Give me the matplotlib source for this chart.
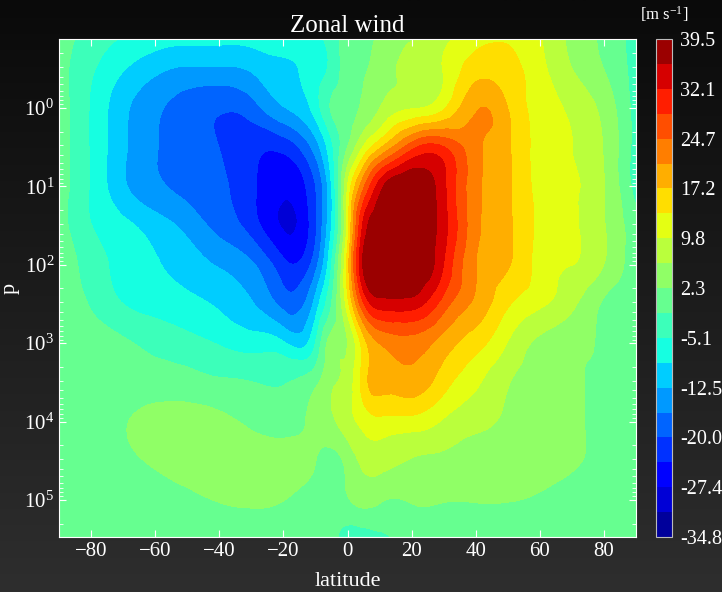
import matplotlib.pyplot as plt
import matplotlib.tri as mtri
import numpy as np
from matplotlib.colors import LinearSegmentedColormap

plt.rcParams['font.family'] = ['Liberation Serif', 'DejaVu Serif']
plt.rcParams['mathtext.fontset'] = 'custom'
plt.rcParams['mathtext.rm'] = 'Liberation Serif'
plt.rcParams['mathtext.it'] = 'Liberation Serif:italic'

# latitude columns (deg) and pressure rows (half decades)
lat = [-90, -80, -70, -60, -50, -40, -30, -20, -10, -5, 0, 5, 10, 20, 30, 40, 50, 60, 70, 80, 90]
p = [1e-1, 3.16e-1, 1e0, 3.16e0, 1e1, 3.16e1, 1e2, 3.16e2, 1e3, 3.16e3, 1e4, 3.16e4, 1e5, 3.16e5]

# zonal wind [m/s], one row per pressure level
u_wind = [
    [0.5, -2.5, -4.5, -5.5, -6.2, -6.2, -6.0, -5.5, -4.5, -3.0, 0.5, 1.0, 2.5, 5.0, 8.0, 11.0, 12.5, 10.0, 5.0, 1.5, -3.0],
    [0.0, -4.5, -8.5, -11.5, -13.0, -13.0, -12.0, -9.5, -7.0, -4.0, 0.5, 2.0, 4.0, 7.0, 10.0, 15.5, 15.0, 11.0, 6.1, 2.3, -3.0],
    [0.5, -5.5, -11.5, -15.5, -18.0, -19.5, -18.0, -12.8, -7.0, -1.0, 1.0, 3.0, 6.0, 9.5, 13.0, 20.5, 17.2, 12.0, 9.0, 4.8, -3.0],
    [0.5, -5.5, -11.8, -16.0, -18.0, -20.0, -22.5, -22.5, -14.5, -6.0, 2.3, 10.2, 16.5, 27.0, 28.5, 22.0, 17.8, 12.0, 9.8, 5.8, -3.0],
    [0.5, -5.5, -11.8, -15.5, -17.4, -19.2, -22.9, -26.5, -20.0, -8.8, 9.8, 24.0, 34.0, 39.5, 33.0, 22.0, 17.8, 12.0, 10.1, 6.2, -3.0],
    [0.5, -5.0, -7.8, -10.7, -13.8, -17.5, -21.7, -27.8, -20.5, -8.8, 11.5, 33.0, 38.5, 39.5, 33.5, 22.0, 17.8, 12.5, 10.2, 6.3, 0.0],
    [0.5, -3.0, -6.5, -8.5, -10.4, -12.9, -15.6, -22.5, -17.5, -5.1, 15.0, 36.5, 39.0, 39.3, 32.0, 21.0, 17.5, 12.0, 9.8, 6.0, 0.0],
    [0.5, -1.7, -5.1, -6.5, -7.8, -9.4, -12.2, -17.5, -11.0, -1.4, 12.0, 28.0, 34.0, 34.0, 26.5, 20.0, 14.0, 10.4, 6.9, 1.8, 0.5],
    [0.5, 0.2, -0.8, -2.5, -3.8, -5.4, -6.8, -8.3, -5.0, 4.0, 6.1, 15.5, 21.0, 23.0, 19.2, 15.0, 9.6, 5.2, 3.4, 1.8, 0.5],
    [0.5, 0.5, 0.5, 0.5, 0.2, -0.8, -1.3, -1.6, 1.5, 5.4, 7.7, 15.3, 18.5, 19.5, 15.0, 10.5, 6.3, 4.7, 3.1, 1.5, 0.5],
    [0.5, 0.8, 2.0, 3.6, 3.8, 3.3, 1.5, 0.8, 3.3, 5.2, 8.3, 11.0, 12.5, 12.0, 9.3, 7.0, 5.4, 4.3, 3.0, 1.5, 0.5],
    [0.5, 0.8, 1.5, 2.8, 3.5, 4.3, 4.8, 4.0, 2.4, 1.5, 3.5, 7.0, 7.5, 5.8, 5.2, 4.6, 4.0, 3.5, 2.7, 1.6, 0.5],
    [0.5, 0.5, 0.8, 1.2, 1.8, 2.5, 3.0, 2.4, 1.2, 1.0, 2.0, 3.5, 2.8, 2.6, 2.5, 2.5, 2.45, 2.0, 1.2, 0.8, 0.5],
    [0.5, 0.5, 0.5, 0.5, 0.5, 0.5, 0.5, 0.5, 0.5, 0.0, -4.0, -4.0, -2.5, 0.5, 0.5, 0.5, 0.5, 0.5, 0.5, 0.5, 0.5],
]

U_MIN, U_MAX = -34.84, 39.53
levels = np.linspace(U_MIN, U_MAX, 21)

# smooth contouring: split every grid cell the same way in (lat, log p) space,
# refine with matplotlib's cubic refiner, then plot on the log axis
lat_g, logp_g = np.meshgrid(lat, np.log10(p))
idx = np.arange(lat_g.size).reshape(lat_g.shape)
a, b = idx[:-1, :-1].ravel(), idx[:-1, 1:].ravel()
c, d = idx[1:, :-1].ravel(), idx[1:, 1:].ravel()
cells = np.concatenate([np.stack([a, b, d], 1), np.stack([a, d, c], 1)])
tri = mtri.Triangulation(lat_g.ravel() / 10, logp_g.ravel() / 0.5, cells)
tri_f, u_f = mtri.UniformTriRefiner(tri).refine_field(np.ravel(u_wind), subdiv=4)
tri_plot = mtri.Triangulation(tri_f.x * 10, 10 ** (tri_f.y * 0.5), tri_f.triangles)
u_f = np.clip(u_f, U_MIN + 1e-6, U_MAX - 1e-6)

W, H = 722, 592
fig = plt.figure(figsize=(W / 100, H / 100), dpi=100)

# dark vertical gradient behind everything
bg = fig.add_axes([0, 0, 1, 1], zorder=-10)
bg_cmap = LinearSegmentedColormap.from_list('bg', ['#0a0a0a', '#2e2e2e'])
bg.imshow(np.linspace(0, 1, 256)[:, None], aspect='auto', cmap=bg_cmap)
bg.axis('off')

ax = fig.add_axes([59 / W, 55 / H, 577 / W, 498 / H])
cf = ax.tricontourf(tri_plot, u_f, levels=levels, cmap='jet')
ax.set_yscale('log')
ax.set_ylim(2.97e5, 0.132)
ax.set_xlim(-90, 90)
ax.set_xticks(range(-80, 81, 20))

ax.tick_params(which='both', direction='in', colors='white', top=True, right=True, labelsize=15)
ax.tick_params(which='major', length=5)
ax.tick_params(which='minor', length=3)
for s in ax.spines.values():
    s.set_color('white')

ax.set_title('Zonal wind', color='white', fontsize=18, pad=5)
ax.set_xlabel('latitude', color='white', fontsize=16)
ax.set_ylabel('p', color='white', fontsize=16)
ax.xaxis.set_label_coords(0.5, -0.07)
ax.yaxis.set_label_coords(-0.068, 0.5)

cax = fig.add_axes([656 / W, 55 / H, 16 / W, 498 / H])
cb = fig.colorbar(cf, cax=cax, ticks=levels[::2], format='%.1f')
cb.ax.tick_params(length=0, colors='white', labelsize=14.5, pad=6)
cb.outline.set_edgecolor('#bbbbbb')
cax.set_title('[m s$^{-1}$]', color='white', fontsize=12, pad=14)

fig.savefig('out.png', dpi=100, facecolor=fig.get_facecolor())
